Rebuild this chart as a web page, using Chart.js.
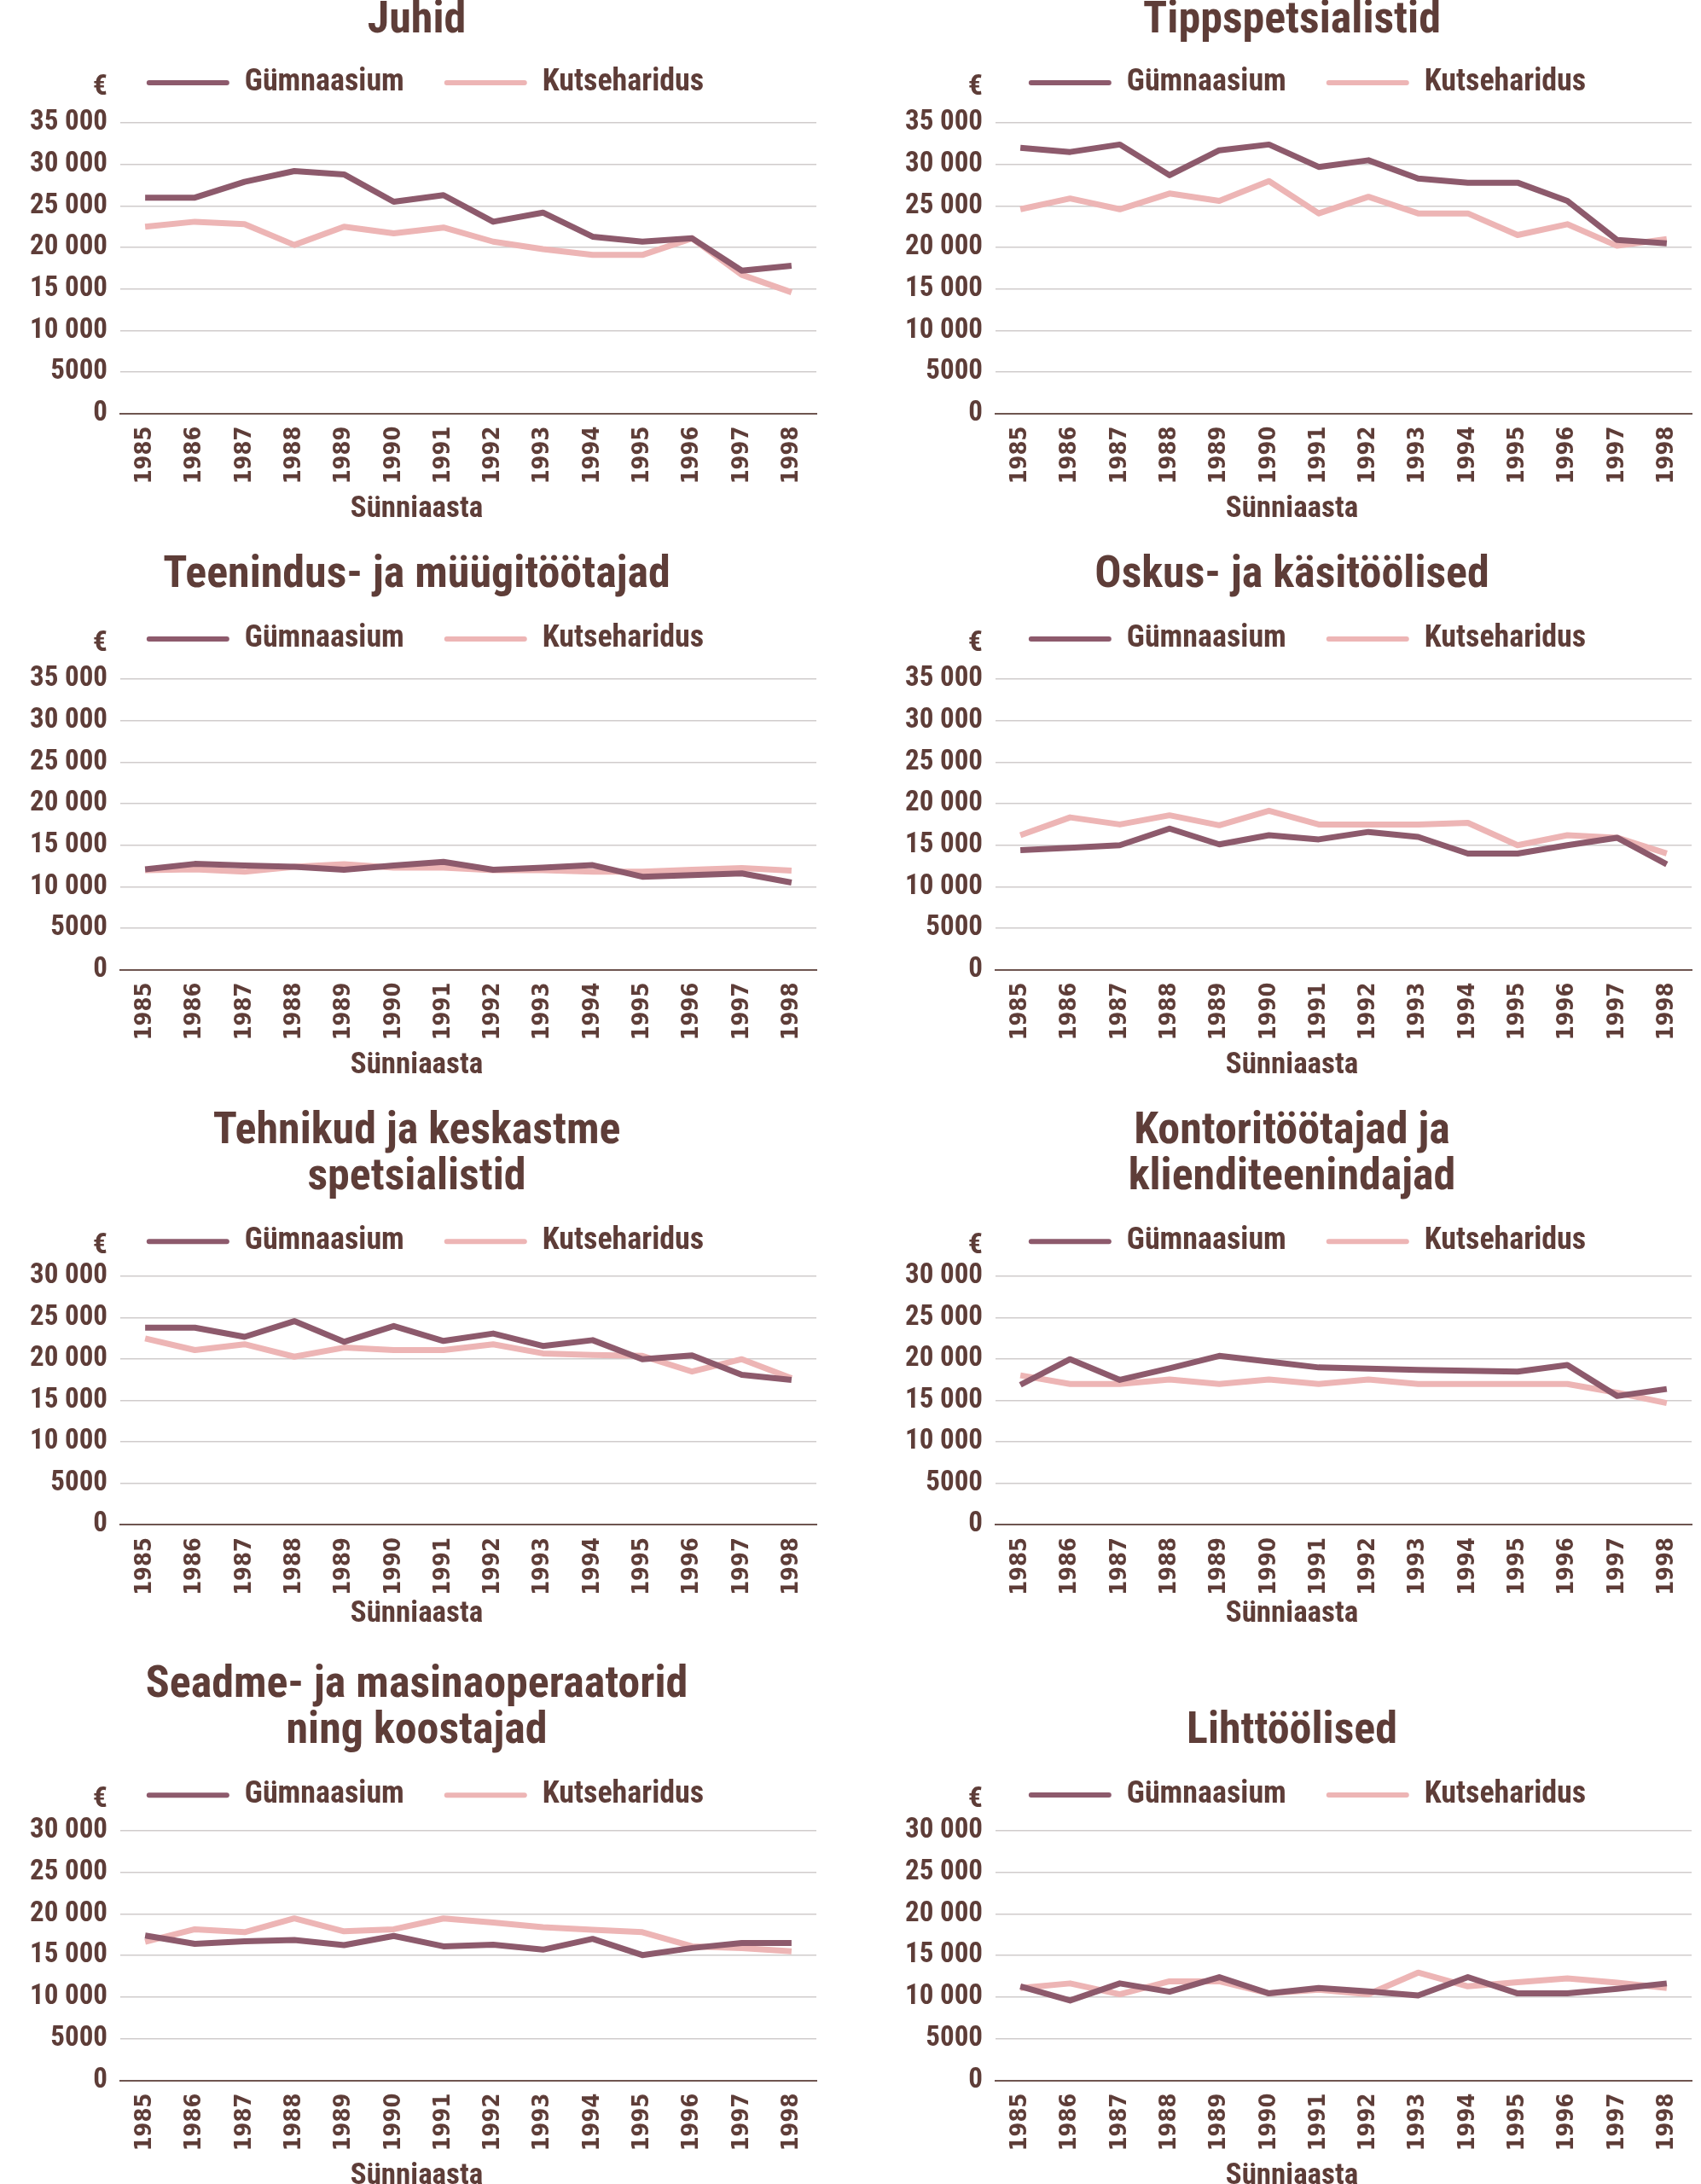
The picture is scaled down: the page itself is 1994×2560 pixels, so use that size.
<!DOCTYPE html>
<html>
<head>
<meta charset="utf-8">
<script src="https://cdn.jsdelivr.net/npm/chart.js@4.4.1/dist/chart.umd.min.js"></script>
<style>
html, body { margin: 0; padding: 0; background: #fff; overflow: hidden; width: 1994px; height: 2560px; position: relative; }
canvas { position: absolute; }
</style>
</head>
<body>
<canvas id="c0"></canvas>
<canvas id="c1"></canvas>
<canvas id="c2"></canvas>
<canvas id="c3"></canvas>
<canvas id="c4"></canvas>
<canvas id="c5"></canvas>
<canvas id="c6"></canvas>
<canvas id="c7"></canvas>
<script>
// Data
const years = ['1985', '1986', '1987', '1988', '1989', '1990', '1991', '1992', '1993', '1994', '1995', '1996', '1997', '1998'];
const seriesNames = ['Gümnaasium', 'Kutseharidus'];
const yUnit = '€';
const xTitle = 'Sünniaasta';

const juhidGym = [26000, 26000, 27900, 29200, 28800, 25500, 26300, 23100, 24200, 21300, 20700, 21100, 17200, 17800];
const juhidVoc = [22500, 23100, 22800, 20300, 22500, 21700, 22400, 20700, 19800, 19100, 19100, 21100, 16700, 14600];

const tippGym = [32000, 31500, 32400, 28700, 31700, 32400, 29700, 30500, 28300, 27800, 27800, 25600, 20900, 20500];
const tippVoc = [24600, 25900, 24600, 26500, 25600, 28000, 24100, 26100, 24100, 24100, 21500, 22800, 20200, 21000];

const teenGym = [12100, 12750, 12550, 12400, 12050, 12550, 13000, 12050, 12300, 12600, 11200, 11400, 11600, 10500];
const teenVoc = [12000, 12100, 11800, 12400, 12700, 12300, 12300, 12000, 12000, 11800, 11800, 12050, 12250, 11950];

const oskusGym = [14400, 14700, 15000, 17000, 15100, 16200, 15700, 16600, 16000, 14000, 14000, 15000, 15900, 12700];
const oskusVoc = [16200, 18350, 17500, 18600, 17400, 19150, 17500, 17500, 17500, 17700, 15000, 16200, 15900, 14000];

const tehnGym = [23800, 23800, 22700, 24600, 22100, 24000, 22200, 23100, 21600, 22300, 20000, 20450, 18100, 17500];
const tehnVoc = [22500, 21100, 21800, 20300, 21400, 21100, 21100, 21800, 20700, 20500, 20400, 18500, 20000, 17700];

const kontGym = [16900, 20000, 17500, 18900, 20400, 19700, 19000, 18850, 18700, 18600, 18500, 19300, 15550, 16400];
const kontVoc = [18050, 17000, 17000, 17550, 17000, 17550, 17000, 17550, 17000, 17000, 17000, 17000, 15950, 14700];

const seadGym = [17400, 16400, 16700, 16850, 16250, 17350, 16100, 16300, 15700, 17000, 15050, 15900, 16500, 16500];
const seadVoc = [16650, 18150, 17800, 19450, 17900, 18150, 19450, 18950, 18400, 18100, 17800, 16100, 15900, 15500];

const lihtGym = [11300, 9600, 11650, 10650, 12400, 10450, 11100, 10700, 10200, 12400, 10450, 10450, 11000, 11650];
const lihtVoc = [11100, 11650, 10350, 11900, 11900, 10450, 10900, 10350, 12950, 11300, 11800, 12250, 11750, 11100];

// Styles
const TEXT = '#5e3d38';
const GYM_COLOR = '#8d5a6c';
const VOC_COLOR = '#edb5b5';
const GRID = '#d0cccc';
const AXIS = '#6e5550';
const FONT = "'Liberation Sans Narrow', 'Roboto Condensed', 'DejaVu Sans Condensed', sans-serif";
const TICK_FONT = "'DejaVu Sans Condensed', 'DejaVu Sans', sans-serif";

Chart.defaults.font.family = FONT;
Chart.defaults.color = TEXT;

// Panel layout (canvas position, legend gap, x-title offset)
const panels = [
    { id: 'c0', title: ['Juhid'], gym: juhidGym, voc: juhidVoc, max: 35000, left: 0, top: -4, height: 622, gap: 19, xPad: -6.3, titleTop: 2, shift: 10 },
    { id: 'c1', title: ['Tippspetsialistid'], gym: tippGym, voc: tippVoc, max: 35000, left: 1026, top: -4, height: 622, gap: 19, xPad: -6.3, titleTop: 2, shift: 18 },
    { id: 'c2', title: ['Teenindus- ja müügitöötajad'], gym: teenGym, voc: teenVoc, max: 35000, left: 0, top: 648, height: 622, gap: 19, xPad: -6.3, titleTop: 0, shift: 10 },
    { id: 'c3', title: ['Oskus- ja käsitöölised'], gym: oskusGym, voc: oskusVoc, max: 35000, left: 1026, top: 648, height: 622, gap: 19, xPad: -6.3, titleTop: 0, shift: 18 },
    { id: 'c4', title: ['Tehnikud ja keskastme', 'spetsialistid'], gym: tehnGym, voc: tehnVoc, max: 30000, left: 0, top: 1300, height: 613, gap: 13, xPad: -13.8, titleTop: 0, shift: 10 },
    { id: 'c5', title: ['Kontoritöötajad ja', 'klienditeenindajad'], gym: kontGym, voc: kontVoc, max: 30000, left: 1026, top: 1300, height: 613, gap: 13, xPad: -13.8, titleTop: 0, shift: 18 },
    { id: 'c6', title: ['Seadme- ja masinaoperaatorid', 'ning koostajad'], gym: seadGym, voc: seadVoc, max: 30000, left: 0, top: 1949, height: 623, gap: 13.5, xPad: -6.3, titleTop: 0, shift: 10 },
    { id: 'c7', title: ['Lihttöölised'], gym: lihtGym, voc: lihtVoc, max: 30000, left: 1026, top: 1949, height: 623, gap: 13.5, xPad: -6.3, titleTop: 54, shift: 18 }
];

const WIDTH = 990;

function formatTick(v) {
    if (v < 10000) return String(v);
    return String(v).replace(/\B(?=(\d{3})+(?!\d))/g, ' ');
}

// extra room between legend and plot, legend nudged right
function legendGap(extra, shift) {
    return {
        id: 'legendGap',
        beforeInit(chart) {
            const legend = chart.legend;
            const fit = legend.fit;
            legend.fit = function () {
                fit.call(this);
                this.height += extra;
            };
        },
        afterLayout(chart) {
            chart.legend.left += shift;
            chart.legend.right += shift;
        }
    };
}

const euroLabel = {
    id: 'euroLabel',
    afterDraw(chart) {
        const { ctx, legend, scales } = chart;
        const lab = legend.options.labels;
        const cy = legend.top + lab.padding + lab.font.size / 2 + 5;
        ctx.save();
        ctx.font = `bold 34px ${FONT}`;
        ctx.fillStyle = TEXT;
        ctx.textAlign = 'right';
        ctx.textBaseline = 'middle';
        ctx.fillText(yUnit, scales.y.right - 15, cy);
        ctx.restore();
    }
};

panels.forEach(p => {
    const canvas = document.getElementById(p.id);
    canvas.width = WIDTH;
    canvas.height = p.height;
    canvas.style.left = p.left + 'px';
    canvas.style.top = p.top + 'px';
    canvas.style.width = WIDTH + 'px';
    canvas.style.height = p.height + 'px';

    new Chart(canvas.getContext('2d'), {
        type: 'line',
        data: {
            labels: years,
            datasets: [
                {
                    label: seriesNames[0],
                    data: p.gym,
                    borderColor: GYM_COLOR,
                    backgroundColor: GYM_COLOR,
                    borderWidth: 7,
                    pointRadius: 0,
                    borderJoinStyle: 'round',
                    tension: 0
                },
                {
                    label: seriesNames[1],
                    data: p.voc,
                    borderColor: VOC_COLOR,
                    backgroundColor: VOC_COLOR,
                    borderWidth: 7,
                    pointRadius: 0,
                    borderJoinStyle: 'round',
                    tension: 0
                }
            ]
        },
        options: {
            responsive: false,
            animation: false,
            devicePixelRatio: 1,
            layout: { padding: { left: 20, right: 33, top: 0, bottom: 0 } },
            plugins: {
                title: {
                    display: true,
                    text: p.title,
                    color: TEXT,
                    font: { size: 52, weight: 'bold', lineHeight: 1.04 },
                    padding: { top: p.titleTop, bottom: -18 - (p.titleTop === 2 ? 2 : 0) }
                },
                subtitle: {
                    display: true,
                    position: 'bottom',
                    text: xTitle,
                    color: TEXT,
                    font: { size: 35, weight: 'bold', lineHeight: 1.2 },
                    padding: { top: p.xPad, bottom: 0 }
                },
                legend: {
                    display: true,
                    position: 'top',
                    align: 'center',
                    labels: {
                        boxWidth: 97,
                        boxHeight: 6,
                        padding: 47,
                        color: TEXT,
                        font: { size: 36, weight: 'bold' },
                        useBorderRadius: true,
                        borderRadius: 3,
                        generateLabels: chart => Chart.defaults.plugins.legend.labels.generateLabels(chart)
                            .map(l => ({ ...l, lineWidth: 0, strokeStyle: 'rgba(0,0,0,0)' }))
                    }
                },
                tooltip: { enabled: false }
            },
            scales: {
                x: {
                    offset: true,
                    grid: { display: false, drawTicks: false },
                    border: { display: true, color: AXIS, width: 2 },
                    ticks: {
                        autoSkip: false,
                        minRotation: 90,
                        maxRotation: 90,
                        padding: 15,
                        color: TEXT,
                        font: { family: TICK_FONT, size: 27, weight: 'bold' }
                    }
                },
                y: {
                    min: 0,
                    max: p.max,
                    grid: { color: GRID, lineWidth: 1.5, drawTicks: false },
                    border: { display: false },
                    ticks: {
                        stepSize: 5000,
                        padding: 15,
                        color: TEXT,
                        font: { size: 33, weight: 'bold' },
                        callback: v => formatTick(v)
                    }
                }
            }
        },
        plugins: [legendGap(p.gap, p.shift), euroLabel]
    });
});
</script>
</body>
</html>
